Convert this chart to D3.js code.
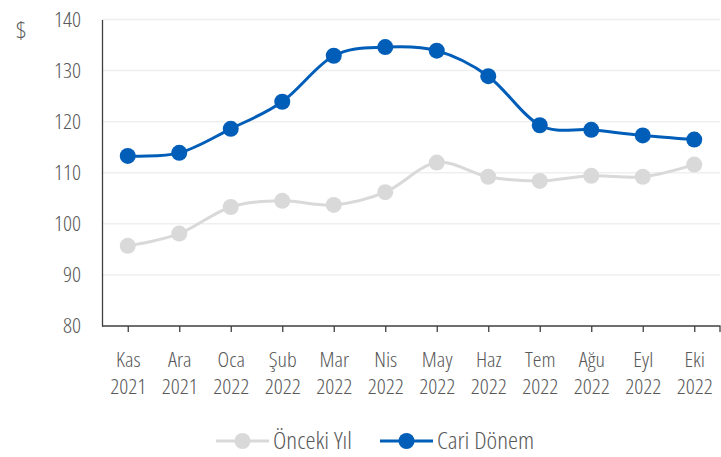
<!DOCTYPE html>
<html>
<head>
<meta charset="utf-8">
<script src="https://cdn.jsdelivr.net/npm/d3@7"></script>
<style>
  body { margin: 0; background: #fff; }
  svg text { font-family: "Open Sans", "Liberation Sans Narrow", "DejaVu Sans Condensed", sans-serif; font-stretch: 75%; font-weight: 300; fill: #595959; }
</style>
</head>
<body>
<div id="chart"></div>
<script>
// categories and series
const months = ["Kas", "Ara", "Oca", "Şub", "Mar", "Nis", "May", "Haz", "Tem", "Ağu", "Eyl", "Eki"];
const years = ["2021", "2021", "2022", "2022", "2022", "2022", "2022", "2022", "2022", "2022", "2022", "2022"];
const previousYear = [95.7, 98.1, 103.3, 104.5, 103.7, 106.2, 112.0, 109.2, 108.4, 109.4, 109.2, 111.6];
const currentPeriod = [113.3, 113.9, 118.6, 123.9, 132.9, 134.6, 133.9, 128.9, 119.3, 118.4, 117.3, 116.5];
const yTicks = [80, 90, 100, 110, 120, 130, 140];

const W = 721, H = 457;
const margin = { top: 19.5, right: 1, bottom: 131, left: 102 };
const width = W - margin.left - margin.right;
const height = H - margin.top - margin.bottom;
const stretch = 1.08; // condensed light font is a bit narrower than the original

// widen a text a little around its anchor point
function widen(sel) {
    sel.each(function() {
        const t = d3.select(this);
        const x = +t.attr("x") || 0;
        t.attr("x", 0).attr("transform", `translate(${x},0) scale(${stretch},1)`);
    });
}

const svg = d3.select("#chart")
    .append("svg")
    .attr("width", W)
    .attr("height", H)
    .append("g")
    .attr("transform", `translate(${margin.left}, ${margin.top})`);

const keys = months.map((m, i) => i);

const xScale = d3.scalePoint()
    .domain(keys)
    .range([0, width])
    .padding(0.5);

const yScale = d3.scaleLinear()
    .domain([80, 140])
    .range([height, 0]);

// gridlines
svg.append("g")
    .selectAll("line")
    .data(yTicks.slice(1))
    .enter()
    .append("line")
    .attr("x1", 0)
    .attr("x2", width)
    .attr("y1", d => yScale(d))
    .attr("y2", d => yScale(d))
    .attr("stroke", "#efefef")
    .attr("stroke-width", 1.5);

// y axis
const yAxis = d3.axisLeft(yScale)
    .tickValues(yTicks)
    .tickSize(0)
    .tickPadding(21);

const gy = svg.append("g").call(yAxis);
gy.select(".domain").attr("stroke", "#404040").attr("stroke-width", 1.3);
gy.selectAll("text").style("font-size", "20.5px").attr("fill", "#595959").call(widen);

// x axis
const xAxis = d3.axisBottom(xScale)
    .tickSize(6)
    .tickSizeOuter(6)
    .tickFormat("");

const gx = svg.append("g")
    .attr("transform", `translate(0, ${height})`)
    .call(xAxis);
gx.select(".domain").attr("stroke", "#404040").attr("stroke-width", 1.3).attr("d", `M0,0H${width}V6`);
gx.selectAll(".tick line").attr("stroke", "#404040").attr("stroke-width", 1.3);

const labels = gx.selectAll(".tick")
    .append("text")
    .attr("text-anchor", "middle")
    .style("font-size", "20.5px")
    .call(widen);
labels.append("tspan").attr("x", 0).attr("y", 41).text(d => months[d]);
labels.append("tspan").attr("x", 0).attr("y", 68).text(d => years[d]);

// $ label
svg.append("text")
    .attr("x", -86)
    .attr("y", 19)
    .style("font-size", "23px")
    .text("$")
    .call(widen);

// lines
const line = d3.line()
    .x((d, i) => xScale(i))
    .y(d => yScale(d))
    .curve(d3.curveCatmullRom.alpha(0));

const series = [
    { name: "Önceki Yıl", values: previousYear, color: "#d9d9d9" },
    { name: "Cari Dönem", values: currentPeriod, color: "#005eb8" }
];

series.forEach(s => {
    svg.append("path")
        .datum(s.values)
        .attr("fill", "none")
        .attr("stroke", s.color)
        .attr("stroke-width", 3)
        .attr("d", line);

    svg.append("g")
        .selectAll("circle")
        .data(s.values)
        .enter()
        .append("circle")
        .attr("cx", (d, i) => xScale(i))
        .attr("cy", d => yScale(d))
        .attr("r", 8)
        .attr("fill", s.color);
});

// legend
const legend = d3.select("svg").append("g")
    .attr("transform", "translate(0, 441)");

const legendX = [216, 380];
series.forEach((s, i) => {
    const g = legend.append("g").attr("transform", `translate(${legendX[i]}, 0)`);
    g.append("line")
        .attr("x1", 0).attr("x2", 53)
        .attr("y1", 0).attr("y2", 0)
        .attr("stroke", s.color)
        .attr("stroke-width", 3);
    g.append("circle")
        .attr("cx", 26.5).attr("cy", 0)
        .attr("r", 8)
        .attr("fill", s.color);
    g.append("text")
        .attr("x", 57)
        .attr("y", 0)
        .attr("dy", "0.35em")
        .style("font-size", "23.5px")
        .text(s.name)
        .call(widen);
});
</script>
</body>
</html>
